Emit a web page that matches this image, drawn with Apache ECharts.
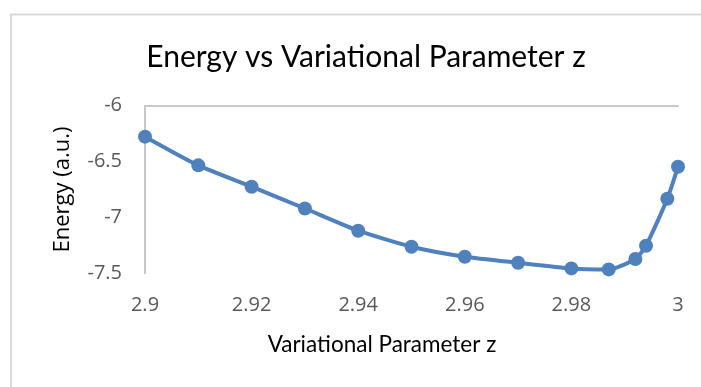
<!DOCTYPE html>
<html>
<head>
<meta charset="utf-8">
<script src="https://cdn.jsdelivr.net/npm/echarts@6/dist/echarts.min.js"></script>
<style>
  html, body { margin: 0; padding: 0; background: #fff; }
  #main { width: 701px; height: 387px; }
</style>
</head>
<body>
<div id="main"></div>
<script>
// 读图得到的数据
var zValues = [2.9, 2.91, 2.92, 2.93, 2.94, 2.95, 2.96, 2.97, 2.98, 2.987, 2.992, 2.994, 2.998, 3.0];
var energyValues = [-6.277, -6.534, -6.725, -6.92, -7.119, -7.262, -7.352, -7.406, -7.456, -7.465, -7.372, -7.253, -6.833, -6.546];
var xTicks = [2.9, 2.92, 2.94, 2.96, 2.98, 3];
var yTicks = [-6, -6.5, -7, -7.5];

var chart = echarts.init(document.getElementById('main'), null, { renderer: 'canvas' });

var points = zValues.map(function (z, i) { return [z, energyValues[i]]; });

var option = {
  backgroundColor: '#fff',
  animation: false,
  title: {
    text: 'Energy vs Variational Parameter z',
    left: 361,
    top: 37,
    textAlign: 'center',
    textStyle: {
      fontFamily: 'Lato',
      fontWeight: 'normal',
      fontSize: 30,
      color: '#000'
    }
  },
  graphic: [{
    type: 'rect',
    z: -10,
    shape: { x: 11, y: 14.5, width: 720, height: 420 },
    style: { fill: 'none', stroke: '#d9d9d9', lineWidth: 2 }
  }],
  grid: {
    left: 145,
    right: 23,
    top: 105.7,
    bottom: 113.7
  },
  xAxis: [{
    type: 'value',
    min: 2.9,
    max: 3,
    interval: 0.02,
    position: 'bottom',
    axisLine: { show: false },
    axisTick: { show: false },
    splitLine: { show: false },
    axisLabel: {
      margin: 22,
      color: '#595959',
      fontFamily: 'Open Sans',
      fontSize: 20,
      formatter: function (v) {
        var m = xTicks.find(function (t) { return Math.abs(t - v) < 1e-6; });
        return m === undefined ? '' : String(m);
      }
    },
    name: 'Variational Parameter z',
    nameLocation: 'middle',
    nameGap: 60,
    nameTextStyle: {
      fontFamily: 'Lato',
      fontSize: 22.5,
      color: '#000',
      padding: [0, 59, 0, 0]
    }
  }, {
    type: 'value',
    min: 2.9,
    max: 3,
    position: 'top',
    axisLine: { show: true, lineStyle: { color: '#c8c8c8', width: 2 } },
    axisTick: { show: false },
    axisLabel: { show: false },
    splitLine: { show: false }
  }],
  yAxis: {
    type: 'value',
    min: -7.5,
    max: -6,
    interval: 0.5,
    axisLine: { show: true, onZero: false, lineStyle: { color: '#c8c8c8', width: 2 } },
    axisTick: { show: false },
    splitLine: { show: false },
    axisLabel: {
      margin: 23,
      color: '#595959',
      fontFamily: 'Open Sans',
      fontSize: 20,
      formatter: function (v) {
        var m = yTicks.find(function (t) { return Math.abs(t - v) < 1e-6; });
        return m === undefined ? '' : String(m);
      }
    },
    name: 'Energy (a.u.)',
    nameLocation: 'middle',
    nameRotate: 90,
    nameGap: 71,
    nameTextStyle: {
      fontFamily: 'Open Sans',
      fontSize: 22,
      color: '#000'
    }
  },
  series: [{
    type: 'line',
    data: points,
    smooth: 0.2,
    symbol: 'circle',
    symbolSize: 14,
    lineStyle: { color: '#4f81bd', width: 4 },
    itemStyle: { color: '#4f81bd' }
  }]
};

chart.setOption(option);
</script>
</body>
</html>
